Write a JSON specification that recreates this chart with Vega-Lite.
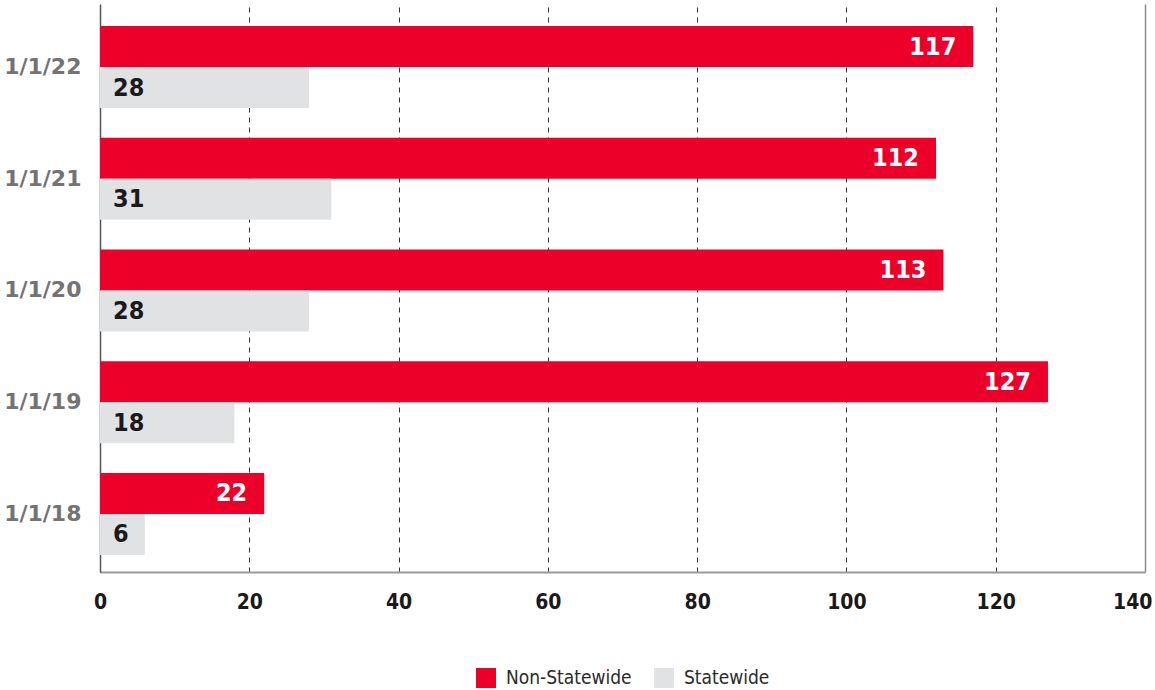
{
  "$schema": "https://vega.github.io/schema/vega-lite/v6.json",
  "width": 1045,
  "height": 568,
  "autosize": "none",
  "padding": {"left": 100, "top": 4, "right": 10, "bottom": 118},
  "background": "white",
  "data": {
    "values": [
      {"date": "1/1/22", "series": "Non-Statewide", "value": 117},
      {"date": "1/1/22", "series": "Statewide", "value": 28},
      {"date": "1/1/21", "series": "Non-Statewide", "value": 112},
      {"date": "1/1/21", "series": "Statewide", "value": 31},
      {"date": "1/1/20", "series": "Non-Statewide", "value": 113},
      {"date": "1/1/20", "series": "Statewide", "value": 28},
      {"date": "1/1/19", "series": "Non-Statewide", "value": 127},
      {"date": "1/1/19", "series": "Statewide", "value": 18},
      {"date": "1/1/18", "series": "Non-Statewide", "value": 22},
      {"date": "1/1/18", "series": "Statewide", "value": 6}
    ]
  },
  "encoding": {
    "y": {
      "field": "date",
      "type": "nominal",
      "sort": ["1/1/22", "1/1/21", "1/1/20", "1/1/19", "1/1/18"],
      "scale": {"paddingInner": 0.266, "paddingOuter": 0.1745, "align": 0.564},
      "axis": {
        "title": null,
        "ticks": false,
        "grid": false,
        "labelFont": "DejaVu Sans, Verdana, sans-serif",
        "labelFontWeight": "bold",
        "labelFontSize": 22,
        "labelColor": "#737373",
        "labelPadding": 19,
        "domainColor": "#555555",
        "domainWidth": 1.5
      }
    },
    "yOffset": {"field": "series", "type": "nominal", "scale": {"domain": ["Non-Statewide", "Statewide"], "paddingInner": 0, "paddingOuter": 0}}
  },
  "layer": [
    {
      "mark": {"type": "bar"},
      "encoding": {
        "x": {
          "field": "value",
          "type": "quantitative",
          "scale": {"domain": [0, 140], "nice": false},
          "axis": {
            "title": null,
            "values": [0, 20, 40, 60, 80, 100, 120, 140],
            "ticks": false,
            "grid": true,
            "gridColor": {"condition": {"test": "datum.value == 140", "value": "#8a8a8a"}, "value": "#333333"},
            "gridDash": {"condition": {"test": "datum.value == 140", "value": []}, "value": [5, 5]},
            "gridWidth": {"condition": {"test": "datum.value == 140", "value": 1.5}, "value": 1},
            "labelFont": "DejaVu Sans Condensed, sans-serif",
            "labelFontWeight": "bold",
            "labelFontSize": 21,
            "labelColor": "#1a1a1a",
            "labelPadding": 19,
            "labelFlush": false,
            "labelAlign": {"condition": {"test": "datum.value == 140", "value": "right"}, "value": "center"},
            "labelOffset": {"condition": {"test": "datum.value == 140", "value": 7}, "value": 0},
            "domainColor": "#999999",
            "domainWidth": 2
          }
        },
        "color": {
          "field": "series",
          "type": "nominal",
          "scale": {"domain": ["Non-Statewide", "Statewide"], "range": ["#EC0029", "#E1E2E4"]},
          "legend": {
            "title": null,
            "orient": "bottom",
            "direction": "horizontal",
            "symbolType": "square",
            "symbolSize": 400,
            "symbolStrokeWidth": 0,
            "symbolOpacity": 1,
            "labelFont": "DejaVu Sans Condensed, sans-serif",
            "labelFontSize": 19,
            "labelColor": "#2a2a2a",
            "labelOffset": 10,
            "columnPadding": 22,
            "offset": 56
          }
        }
      }
    },
    {
      "transform": [{"filter": "datum.series == 'Non-Statewide'"}],
      "mark": {"type": "text", "align": "right", "baseline": "middle", "dx": -17, "font": "DejaVu Sans Condensed, sans-serif", "fontWeight": "bold", "fontSize": 25, "color": "white"},
      "encoding": {
        "x": {"field": "value", "type": "quantitative"},
        "text": {"field": "value", "type": "quantitative"}
      }
    },
    {
      "transform": [{"filter": "datum.series == 'Statewide'"}],
      "mark": {"type": "text", "align": "left", "baseline": "middle", "dx": 13, "font": "DejaVu Sans Condensed, sans-serif", "fontWeight": "bold", "fontSize": 25, "color": "#1a1a1a"},
      "encoding": {
        "x": {"datum": 0, "type": "quantitative"},
        "text": {"field": "value", "type": "quantitative"}
      }
    }
  ],
  "config": {
    "view": {"stroke": null},
    "legend": {"layout": {"bottom": {"anchor": "middle"}}}
  }
}
